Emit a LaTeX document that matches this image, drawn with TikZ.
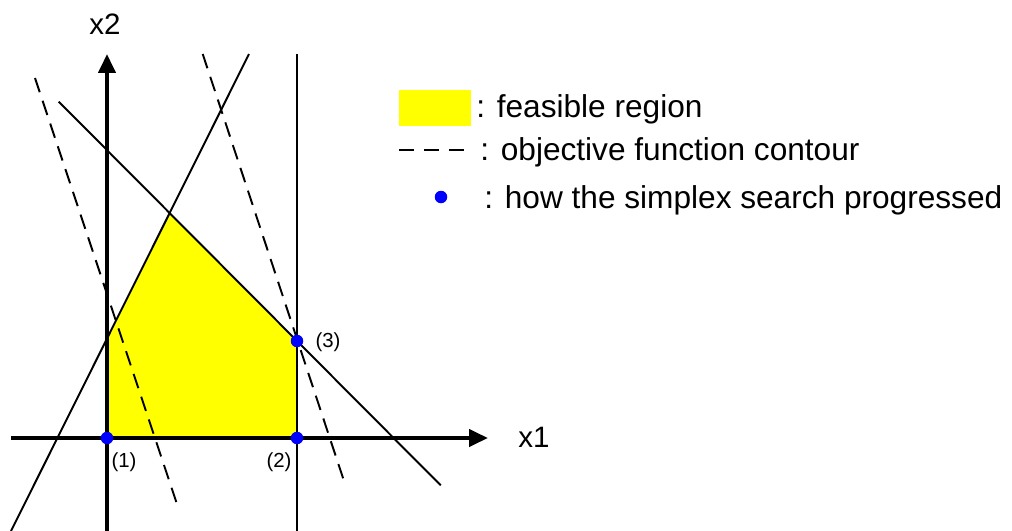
\documentclass[tikz,border=0pt]{standalone}
\usepackage{fontspec}
\setmainfont{Liberation Sans}
\usepackage{tikz}
\usetikzlibrary{arrows.meta, positioning, calc}
\definecolor{feasyellow}{RGB}{255,255,0}
\definecolor{stepblue}{RGB}{0,0,255}

\begin{document}
\begin{tikzpicture}[x=0.02cm, y=-0.02cm,
    axis/.style={line width=2.3pt, -{Triangle[length=0.38cm, width=0.34cm]}},
    constraint/.style={line width=1.1pt},
    contour/.style={line width=1.1pt, dash pattern=on 0.3cm off 0.18cm},
    simplexpt/.style={circle, fill=stepblue, inner sep=0pt, minimum size=0.25cm},
    axislabel/.style={font=\fontsize{16.8}{19}\selectfont},
    ptlabel/.style={font=\fontsize{11.6}{13}\selectfont},
    legendtext/.style={font=\fontsize{18}{21}\selectfont, anchor=base west, inner sep=0pt},
]
  \useasboundingbox (0,0) rectangle (1012,531);

  % corners of the feasible region
  \coordinate (o) at (107,438);
  \coordinate (a) at (107,338.6);
  \coordinate (b) at (169.7,213);
  \coordinate (c) at (297,341);
  \coordinate (d) at (297,438);
  \fill[feasyellow] (o) -- (a) -- (b) -- (c) -- (d) -- cycle;

  % constraints
  \draw[constraint] (11,531) -- (249,54);
  \draw[constraint] (58.7,101.6) -- (440.7,485.3);
  \draw[constraint] (297,54) -- (297,531);

  % objective function contours
  \draw[contour] (35,78) -- (178.3,508);
  \draw[contour] (202.7,54) -- (345,484);

  % axes
  \draw[axis] (11,438) -- (488,438);
  \draw[axis] (107,531) -- (107,54);
  \node[axislabel] (xone) at (534,437) {x1};
  \node[axislabel] (xtwo) at (105,24) {x2};

  % simplex steps
  \node[simplexpt] (p1) at (o) {};
  \node[simplexpt] (p2) at (d) {};
  \node[simplexpt] (p3) at (c) {};
  \node[ptlabel] (l1) at (124,462) {(1)};
  \node[ptlabel] (l2) at (279,462) {(2)};
  \node[ptlabel] (l3) at (328,342) {(3)};

  % legend
  \fill[feasyellow] (399,90) rectangle (471,126);
  \node[legendtext] (lgfeas) at (476,117) {: feasible region};
  \draw[contour, dash pattern=on 0.3cm off 0.2cm] (399,150) -- (464,150);
  \node[legendtext] (lgcont) at (480,160) {: objective function contour};
  \node[simplexpt] (lgdot) at (441,197) {};
  \node[legendtext] (lgpath) at (484,208) {: how the simplex search progressed};
\end{tikzpicture}
\end{document}
